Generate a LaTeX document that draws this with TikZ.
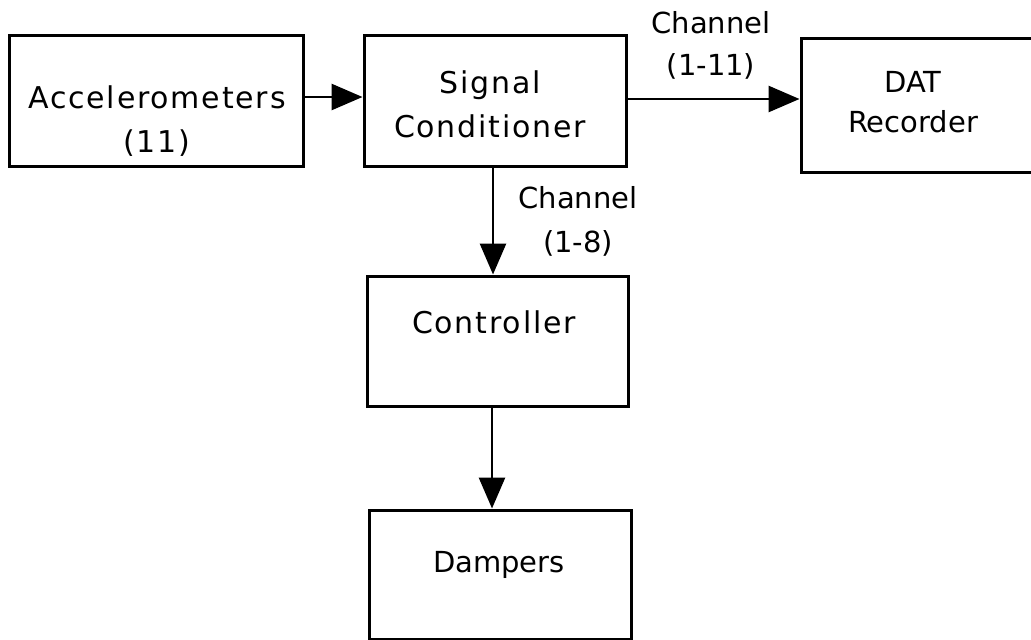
\documentclass[tikz,border=0pt]{standalone}
\usepackage{fontspec}
\setmainfont{DejaVu Sans}
\newfontfamily\boxfont[LetterSpace=6]{DejaVu Sans}
\newfontfamily\plainfont{DejaVu Sans}
\usetikzlibrary{arrows.meta}
\tikzset{
  block/.style={draw, line width=3pt, inner sep=0pt, fill=white},
  boxtext/.style={inner sep=0pt, anchor=base, align=center,
                  font=\boxfont\fontsize{30}{44}\selectfont},
  plaintext/.style={inner sep=0pt, anchor=base, align=center,
                  font=\plainfont\fontsize{29}{42}\selectfont},
  flow/.style={line width=2.8pt, -{Triangle[length=31pt,width=26pt]}}
}
\begin{document}
\begin{tikzpicture}[x=1pt,y=-1pt]
  \useasboundingbox (0,0) rectangle (1031,640);
  \clip (0,0) rectangle (1031,640);

  % blocks
  \node[block, minimum width=294pt, minimum height=131pt] (acc)  at (156,100.5) {};
  \node[block, minimum width=262pt, minimum height=131pt] (sc)   at (495,100.5) {};
  \node[block, minimum width=239pt, minimum height=134pt] (dat)  at (920.5,105) {};
  \node[block, minimum width=261pt, minimum height=130pt] (ctrl) at (497.5,341) {};
  \node[block, minimum width=262pt, minimum height=129pt] (damp) at (500,574.5) {};

  % block texts (anchored at the baseline of their last line)
  \node[boxtext] (acct)  at (157,152) {Accelerometers\\(11)};
  \node[boxtext] (sct)   at (490,137) {Signal\\Conditioner};
  \node[plaintext, font=\plainfont\fontsize{29}{40}\selectfont] (datt) at (913,132) {DAT\\Recorder};
  \node[boxtext] (ctrlt) at (494,333) {Controller};
  \node[plaintext] (dampt) at (499,572) {Dampers};

  % connector labels
  \node[plaintext] (ch1) at (711,75)  {Channel\\(1-11)};
  \node[plaintext, font=\plainfont\fontsize{29}{44}\selectfont] (ch2) at (578,252) {Channel\\(1-8)};

  % connector lines
  \coordinate (r1) at (0,97);
  \coordinate (r2) at (0,99);
  \coordinate (c1) at (493,0);
  \coordinate (c2) at (492,0);
  \draw[flow] (acc.east |- r1) -- (sc.west |- r1);
  \draw[flow] (sc.east |- r2) -- (dat.west |- r2);
  \draw[flow] (sc.south -| c1) -- (ctrl.north -| c1);
  \draw[flow] (ctrl.south -| c2) -- (damp.north -| c2);
\end{tikzpicture}
\end{document}
